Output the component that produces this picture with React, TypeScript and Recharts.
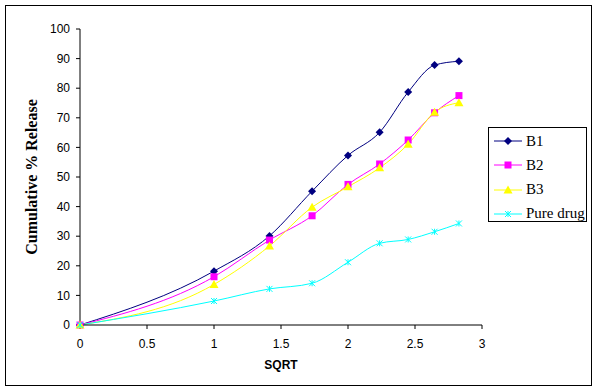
import { LineChart, Line, XAxis, YAxis } from 'recharts'

// sqrt of sampling time (sqrt 0..8)
const sqrtTime = [0, 1, 1.414, 1.732, 2, 2.236, 2.449, 2.646, 2.828]
const b1 = [0, 18.2, 30.1, 45.2, 57.3, 65.1, 78.7, 87.8, 89.1]
const b2 = [0, 16.3, 28.7, 36.9, 47.5, 54.4, 62.5, 71.7, 77.5]
const b3 = [0, 13.7, 26.7, 39.8, 46.7, 53.1, 61.1, 71.9, 75.1]
const pureDrug = [0, 8.1, 12.2, 14.1, 21.2, 27.6, 28.9, 31.5, 34.3]

const xTicks = [0, 0.5, 1, 1.5, 2, 2.5, 3]
const yTicks = [0, 10, 20, 30, 40, 50, 60, 70, 80, 90, 100]

const data = sqrtTime.map((x, i) => ({
  x,
  b1: b1[i],
  b2: b2[i],
  b3: b3[i],
  pure: pureDrug[i],
}))

const SANS = "'Liberation Sans', Arial, sans-serif"
const SERIF = "'Liberation Serif', 'Times New Roman', serif"

const tickStyle = { fontSize: 12, fill: '#000', fontFamily: SANS }

type Shape = 'diamond' | 'square' | 'triangle' | 'star'

function Marker({ cx, cy, shape, color }: { cx: number; cy: number; shape: Shape; color: string }) {
  if (shape === 'diamond') {
    return <polygon points={`${cx},${cy - 4} ${cx + 4},${cy} ${cx},${cy + 4} ${cx - 4},${cy}`} fill={color} />
  }
  if (shape === 'square') {
    return <rect x={cx - 3.5} y={cy - 3.5} width={7} height={7} fill={color} />
  }
  if (shape === 'triangle') {
    return <polygon points={`${cx},${cy - 4.5} ${cx + 4.5},${cy + 3.5} ${cx - 4.5},${cy + 3.5}`} fill={color} />
  }
  return (
    <g stroke={color} strokeWidth={1}>
      <line x1={cx - 3} y1={cy - 3} x2={cx + 3} y2={cy + 3} />
      <line x1={cx - 3} y1={cy + 3} x2={cx + 3} y2={cy - 3} />
      <line x1={cx} y1={cy - 3} x2={cx} y2={cy + 3} />
    </g>
  )
}

const series: { key: string; name: string; color: string; shape: Shape }[] = [
  { key: 'b1', name: 'B1', color: '#000080', shape: 'diamond' },
  { key: 'b2', name: 'B2', color: '#FF00FF', shape: 'square' },
  { key: 'b3', name: 'B3', color: '#FFFF00', shape: 'triangle' },
  { key: 'pure', name: 'Pure drug', color: '#00FFFF', shape: 'star' },
]

export default function App() {
  return (
    <div style={{ position: 'absolute', left: 0, top: 0, width: 598, height: 391, background: '#fff' }}>
      <div
        style={{
          position: 'absolute',
          left: 5,
          top: 5,
          width: 585,
          height: 379,
          border: '1px solid #000',
        }}
      />
      <div style={{ position: 'absolute', left: 0, top: 0 }}>
        <LineChart width={598} height={391} data={data} margin={{ top: 29, right: 116, bottom: 36, left: 40 }}>
          <XAxis
            dataKey="x"
            type="number"
            domain={[0, 3]}
            ticks={xTicks}
            tick={tickStyle}
            tickSize={4}
            tickMargin={10}
            height={30}
            stroke="#000"
            label={{
              content: () => (
                <text x={281} y={369} textAnchor="middle" style={{ fontSize: 12, fontWeight: 'bold', fill: '#000', fontFamily: SANS }}>
                  SQRT
                </text>
              ),
            }}
          />
          <YAxis
            type="number"
            domain={[0, 100]}
            ticks={yTicks}
            tick={tickStyle}
            tickSize={4}
            tickMargin={6}
            width={40}
            stroke="#000"
            label={{
              content: () => (
                <text
                  x={37}
                  y={177}
                  transform="rotate(-90 37 177)"
                  textAnchor="middle"
                  style={{ fontSize: 16, fontWeight: 'bold', fill: '#000', fontFamily: SERIF }}
                >
                  Cumulative % Release
                </text>
              ),
            }}
          />
          {series.map((s) => (
            <Line
              key={s.key}
              type="monotone"
              dataKey={s.key}
              name={s.name}
              stroke={s.color}
              strokeWidth={1}
              isAnimationActive={false}
              dot={(p: any) => <Marker key={`${s.key}-${p.index}`} cx={p.cx} cy={p.cy} shape={s.shape} color={s.color} />}
              activeDot={false}
            />
          ))}
        </LineChart>
      </div>
      <div
        style={{
          position: 'absolute',
          left: 488,
          top: 127,
          width: 97,
          height: 93,
          border: '1px solid #000',
          background: '#fff',
          fontFamily: SERIF,
          fontSize: 15,
          color: '#000',
        }}
      >
        {series.map((s, i) => (
          <div key={s.key} style={{ position: 'absolute', left: 5, top: 3 + i * 24.3, height: 20, display: 'flex', alignItems: 'center', whiteSpace: 'nowrap' }}>
            <svg width={28} height={20} style={{ marginRight: 4 }}>
              <line x1={0} y1={10} x2={28} y2={10} stroke={s.color} strokeWidth={1} />
              <Marker cx={14} cy={10} shape={s.shape} color={s.color} />
            </svg>
            <span>{s.name}</span>
          </div>
        ))}
      </div>
    </div>
  )
}
